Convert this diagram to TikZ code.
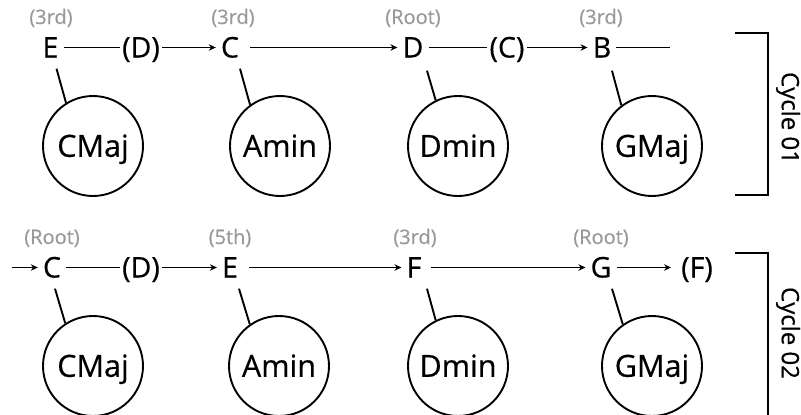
\documentclass[tikz,border=0pt]{standalone}
\usepackage{fontspec}
\setmainfont{Open Sans}[FakeBold=0.5]
\usetikzlibrary{arrows.meta}
\begin{document}
\begin{tikzpicture}[x=1pt,y=-1pt,
  note/.style={font=\fontsize{28.5}{32}\selectfont, text height=20pt, text depth=0pt, inner ysep=0pt, inner xsep=5pt},
  paren/.style={note, inner xsep=2pt},
  deg/.style={font=\fontsize{20}{24}\selectfont, text=black!40, anchor=base, inner sep=0pt},
  chord/.style={draw, circle, line width=1.9pt, minimum size=100pt, inner sep=0pt,
    font=\fontsize{30.5}{34}\selectfont, text height=21.6pt, text depth=0pt},
  ln/.style={line width=1.9pt},
  arr/.style={ln, -{Stealth[length=7pt,width=6.5pt]}},
  cyc/.style={font=\fontsize{24}{28}\selectfont, rotate=-90, inner sep=0pt},
  brk/.style={line width=2pt}
]
\useasboundingbox (0,0) rectangle (801,415);

% ---------- Row 1 ----------
\node[note]  (e1)  at (50.5,47.5) {E};
\node[paren] (d1p) at (141,47.5)  {(D)};
\node[note]  (c1)  at (230,47.5)  {C};
\node[note]  (d1)  at (413,47.5)  {D};
\node[paren] (c1p) at (507,47.5)  {(C)};
\node[note]  (b1)  at (602,47.5)  {B};
\coordinate (b1end) at (670,47.5);

\node[deg] (l11) at (51,24)  {(3rd)};
\node[deg] (l12) at (233,24) {(3rd)};
\node[deg] (l13) at (413,24) {(Root)};
\node[deg] (l14) at (601,24) {(3rd)};

\draw[ln]  (e1) -- (d1p);
\draw[arr] (d1p) -- (c1);
\draw[arr, shorten <=6pt] (c1) -- (d1);
\draw[ln]  (d1) -- (c1p);
\draw[arr] (c1p) -- (b1);
\draw[ln]  (b1) -- (b1end);

\node[chord] (k11) at (93,146)  {CMaj};
\node[chord] (k12) at (280,146) {Amin};
\node[chord] (k13) at (458,146) {Dmin};
\node[chord] (k14) at (652,146) {GMaj};

\draw[ln] ([xshift=6pt,yshift=-11pt]e1.south)  -- (k11.122);
\draw[ln] ([xshift=10pt,yshift=-11pt]c1.south) -- (k12.126);
\draw[ln] ([xshift=14pt,yshift=-13pt]d1.south) -- (k13.116);
\draw[ln] ([xshift=10pt,yshift=-13pt]b1.south) -- (k14.127);

\coordinate (t1a) at (735,33);
\coordinate (t1b) at (768,33);
\coordinate (t1c) at (768,195);
\coordinate (t1d) at (735,195);
\draw[brk] (t1a) -- (t1b) -- (t1c) -- (t1d);
\node[cyc] (cy1) at (788,118) {Cycle 01};

% ---------- Row 2 ----------
\coordinate (start2) at (12,267.5);
\node[note]  (c2)  at (52,267.5)  {C};
\node[paren] (d2p) at (141,267.5) {(D)};
\node[note]  (e2)  at (230,267.5) {E};
\node[note]  (f2)  at (414,267.5) {F};
\node[note]  (g2)  at (601,267.5) {G};
\node[paren] (f2p) at (697,267.5) {(F)};

\node[deg] (l21) at (52,244)  {(Root)};
\node[deg] (l22) at (230,244) {(5th)};
\node[deg] (l23) at (415,244) {(3rd)};
\node[deg] (l24) at (601,244) {(Root)};

\draw[arr] (start2) -- (c2);
\draw[ln]  (c2) -- (d2p);
\draw[arr] (d2p) -- (e2);
\draw[arr, shorten <=6pt] (e2) -- (f2);
\draw[arr, shorten <=4pt] (f2) -- (g2);
\draw[arr] (g2) -- ([xshift=-8pt]f2p.west);

\node[chord] (k21) at (93,366)  {CMaj};
\node[chord] (k22) at (279,366) {Amin};
\node[chord] (k23) at (458,366) {Dmin};
\node[chord] (k24) at (652,366) {GMaj};

\draw[ln] ([xshift=3pt,yshift=-11pt]c2.south)  -- (k21.123);
\draw[ln] ([xshift=9pt,yshift=-11pt]e2.south)  -- (k22.125);
\draw[ln] ([xshift=13pt,yshift=-11pt]f2.south) -- (k23.116);
\draw[ln] ([xshift=11pt,yshift=-11pt]g2.south) -- (k24.125);

\coordinate (t2a) at (735,253);
\coordinate (t2b) at (768,253);
\coordinate (t2c) at (768,416);
\draw[brk] (t2a) -- (t2b) -- (t2c);
\node[cyc] (cy2) at (788,333) {Cycle 02};
\end{tikzpicture}
\end{document}
